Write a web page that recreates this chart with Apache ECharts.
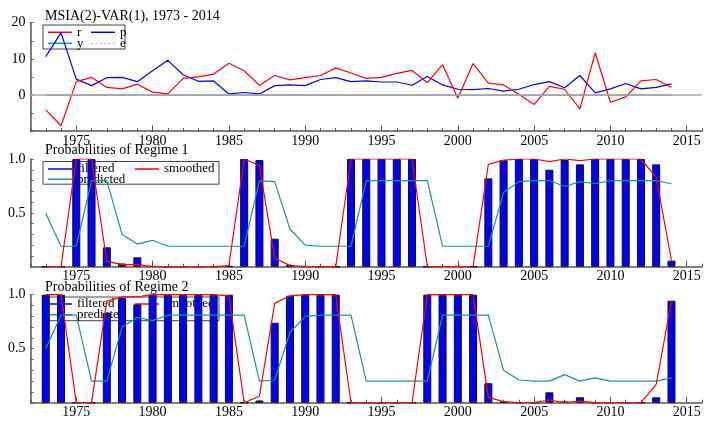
<!DOCTYPE html>
<html>
<head>
<meta charset="utf-8">
<script src="https://cdn.jsdelivr.net/npm/echarts@6/dist/echarts.min.js"></script>
<style>
html,body{margin:0;padding:0;background:#fff;}
#chart{width:705px;height:421px;}
</style>
</head>
<body>
<div id="chart"></div>
<script>
// ---------- data ----------
const years = [1973,1974,1975,1976,1977,1978,1979,1980,1981,1982,1983,1984,1985,1986,1987,1988,1989,1990,1991,1992,1993,1994,1995,1996,1997,1998,1999,2000,2001,2002,2003,2004,2005,2006,2007,2008,2009,2010,2011,2012,2013,2014];
const xLabelYears = [1975,1980,1985,1990,1995,2000,2005,2010,2015];
const yLabelsTop = [0,10,20];
const yLabelsProb = [0.5,1.0];

const seriesR = [-4.1,-8.5,3.7,4.9,2.1,1.7,3.0,0.8,0.3,4.6,5.0,5.8,8.8,6.7,2.7,5.4,4.2,4.8,5.4,7.5,6.1,4.6,4.9,6.0,6.8,3.4,8.4,-0.9,8.7,3.3,2.8,0.2,-2.6,2.4,1.6,-3.8,11.7,-2.0,-0.5,3.9,4.3,2.1];
const seriesP = [10.6,17.2,4.4,2.6,4.8,4.9,3.7,6.7,9.6,5.6,3.8,3.9,0.3,0.7,0.3,2.6,2.8,2.6,4.3,4.8,3.7,3.9,3.6,3.6,2.7,5.1,2.8,1.6,1.5,1.8,1.1,1.6,2.9,3.7,2.0,5.4,0.6,1.7,3.2,1.7,2.1,3.1];
const seriesY = [0,0,0,0,0,0,0,0,0,0,0,0,0,0,0,0,0,0,0,0,0,0,0,0,0,0,0,0,0,0,0,0,0,0,0,0,0,0,0,0,0,0];
const seriesE = [0,0,0,0,0,0,0,0,0,0,0,0,0,0,0,0,0,0,0,0,0,0,0,0,0,0,0,0,0,0,0,0,0,0,0,0,0,0,0,0,0,0];

const reg1Filtered = [0,0,1.0,1.0,0.18,0.03,0.087,0.005,0,0,0,0,0.005,1.0,0.99,0.26,0.015,0.005,0,0,1.0,1.0,1.0,1.0,1.0,0,0.005,0.005,0,0.82,0.99,1.0,1.0,0.90,0.99,0.95,1.0,1.0,1.0,1.0,0.95,0.056];
const reg1Smoothed = [0,0,1.0,1.0,0.05,0.02,0.02,0,0,0,0,0,0.01,1.0,0.94,0.08,0.01,0,0,0,1.0,1.0,1.0,1.0,1.0,0,0,0,0,0.95,0.99,1.0,1.0,0.975,1.0,0.985,1.0,1.0,1.0,1.0,0.83,0.056];
const reg1Predicted = [0.495,0.19,0.19,0.80,0.80,0.30,0.21,0.245,0.19,0.19,0.19,0.19,0.19,0.19,0.80,0.79,0.35,0.20,0.19,0.19,0.19,0.80,0.80,0.80,0.80,0.80,0.19,0.19,0.19,0.19,0.69,0.79,0.80,0.80,0.745,0.79,0.77,0.80,0.80,0.80,0.80,0.77];

const reg2Filtered = [1.0,1.0,0,0,0.83,0.97,0.91,1.0,1.0,1.0,1.0,1.0,1.0,0,0.02,0.74,0.99,1.0,1.0,1.0,0,0,0,0,0,1.0,1.0,1.0,1.0,0.18,0.01,0,0,0.096,0.01,0.05,0,0,0,0,0.05,0.944];
const reg2Smoothed = [1.0,1.0,0,0,0.94,0.98,0.98,1.0,1.0,1.0,1.0,1.0,0.99,0,0.06,0.92,0.99,1.0,1.0,1.0,0,0,0,0,0,1.0,1.0,1.0,1.0,0.05,0.01,0,0,0.025,0,0.015,0,0,0,0,0.17,0.944];
const reg2Predicted = [0.5,0.81,0.81,0.2,0.2,0.70,0.79,0.76,0.81,0.81,0.81,0.81,0.81,0.81,0.2,0.21,0.65,0.80,0.81,0.81,0.81,0.2,0.2,0.2,0.2,0.2,0.81,0.81,0.81,0.81,0.30,0.21,0.2,0.2,0.26,0.2,0.23,0.2,0.2,0.2,0.2,0.23];

// ---------- styling ----------
const FONT = 'Liberation Serif';
const AX = '#555';
const RED = '#ff0000', BLUE = '#0000ff', TEAL = '#1a9595', PINK = '#ff77ff';

const pair = arr => years.map((y, i) => [y, arr[i]]);
const near = (v, list) => list.some(t => Math.abs(v - t) < 1e-9);

const grids = [
  {left: 30.5, top: 22.7, width: 676.5, height: 108.5},
  {left: 30.5, top: 159, width: 676.5, height: 107.7},
  {left: 30.5, top: 294.7, width: 676.5, height: 108}
];

function xMain(g) {
  return {
    type: 'value', gridIndex: g, min: 1972, max: 2016, interval: 1,
    axisLine: {show: true, onZero: false, lineStyle: {color: AX, width: 1.5}},
    axisTick: {show: true, inside: true, length: 3, lineStyle: {color: AX, width: 1}},
    axisLabel: {formatter: v => near(v, xLabelYears) ? String(v) : '', fontFamily: FONT, fontSize: 14, color: '#000', margin: 3},
    splitLine: {show: false}
  };
}
function xMajor(g) {
  return {
    type: 'value', gridIndex: g, min: 1972, max: 2016, position: 'bottom',
    axisLine: {show: false, onZero: false},
    axisTick: {show: true, inside: true, length: 6, customValues: xLabelYears, lineStyle: {color: AX, width: 1}},
    axisLabel: {show: false},
    splitLine: {show: false}
  };
}
function yAxis(g, min, max, interval, labels, digits) {
  return {
    type: 'value', gridIndex: g, min: min, max: max, interval: interval,
    axisLine: {show: true, onZero: false, lineStyle: {color: AX, width: 1.5}},
    axisTick: {show: true, inside: true, length: 3, lineStyle: {color: AX, width: 1}},
    axisLabel: {formatter: v => near(v, labels) ? v.toFixed(digits) : '', fontFamily: FONT, fontSize: 14, color: '#000', margin: 5},
    splitLine: {show: false}
  };
}

function legendItem(name, left, cy, color, icon) {
  return {
    data: [{name: name, icon: icon || 'rect', itemStyle: {color: color, borderWidth: 0}}],
    left: left, top: cy - 7, padding: 0, itemWidth: 24, itemHeight: 1.5, itemGap: 0,
    selectedMode: false, z: 1,
    itemStyle: {borderWidth: 0},
    lineStyle: {width: 0},
    textStyle: {fontFamily: FONT, fontSize: 13, color: '#000', lineHeight: 14, padding: [0, 0, 0, 0]}
  };
}
const dotIcon = 'path://M0,0h2v1h-2zM4,0h2v1h-2zM8,0h2v1h-2zM12,0h2v1h-2zM16,0h2v1h-2zM20,0h2v1h-2z';

function lineSeries(name, arr, color, xi, yi, extra) {
  return Object.assign({
    type: 'line', name: name, data: pair(arr), xAxisIndex: xi, yAxisIndex: yi,
    color: color, symbol: 'none', showSymbol: false,
    lineStyle: {color: color, width: 1.2}, z: 3, silent: true
  }, extra || {});
}
function barSeries(name, arr, xi, yi) {
  return {
    type: 'bar', name: name, data: pair(arr), xAxisIndex: xi, yAxisIndex: yi,
    barWidth: 8, color: BLUE, itemStyle: {color: BLUE, borderColor: '#111', borderWidth: 1},
    z: 2, silent: true
  };
}

const titleStyle = {fontFamily: FONT, fontSize: 14, fontWeight: 'normal', color: '#000'};

const option = {
  animation: false,
  backgroundColor: '#fff',
  title: [
    {text: 'MSIA(2)-VAR(1), 1973 - 2014', left: 45, top: 9, padding: 0, textStyle: titleStyle},
    {text: 'Probabilities of Regime 1', left: 45, top: 143.5, padding: 0, textStyle: titleStyle},
    {text: 'Probabilities of Regime 2', left: 45, top: 280.5, padding: 0, textStyle: titleStyle}
  ],
  grid: grids,
  xAxis: [xMain(0), xMajor(0), xMain(1), xMajor(1), xMain(2), xMajor(2)],
  yAxis: [
    yAxis(0, -10, 20, 5, yLabelsTop, 0),
    yAxis(1, 0, 1, 0.1, yLabelsProb, 1),
    yAxis(2, 0, 1, 0.1, yLabelsProb, 1)
  ],
  legend: [
    legendItem('r', 48, 32.3, RED),
    legendItem('p', 91, 32.3, BLUE),
    legendItem('y', 48, 43.3, TEAL),
    legendItem('e', 91, 43.3, PINK, dotIcon),
    legendItem('filtered', 48, 169, BLUE),
    legendItem('smoothed', 135, 169, RED),
    legendItem('predicted', 48, 179.3, TEAL),
    legendItem('filtered ', 48, 304, BLUE),
    legendItem('smoothed ', 135, 304, RED),
    legendItem('predicted ', 48, 314.7, TEAL)
  ],
  graphic: [
    {type: 'rect', z: 1, shape: {x: 43, y: 25, width: 82, height: 24}, style: {fill: 'none', stroke: '#444', lineWidth: 1}},
    {type: 'rect', z: 1, shape: {x: 43, y: 161.5, width: 176, height: 22.7}, style: {fill: 'none', stroke: '#444', lineWidth: 1}},
    {type: 'rect', z: 1, shape: {x: 43, y: 297, width: 176, height: 23.7}, style: {fill: 'none', stroke: '#444', lineWidth: 1}}
  ],
  series: [
    lineSeries('y', seriesY, TEAL, 0, 0, {
      markLine: {silent: true, symbol: 'none', label: {show: false},
        lineStyle: {color: '#aaaaaa', width: 1.5, type: 'solid'}, data: [{yAxis: 0}]}
    }),
    lineSeries('e', seriesE, PINK, 0, 0, {lineStyle: {color: PINK, width: 1.2, type: [2, 2]}}),
    lineSeries('p', seriesP, BLUE, 0, 0),
    lineSeries('r', seriesR, RED, 0, 0),

    barSeries('filtered', reg1Filtered, 2, 1),
    lineSeries('predicted', reg1Predicted, TEAL, 2, 1),
    lineSeries('smoothed', reg1Smoothed, RED, 2, 1),

    barSeries('filtered ', reg2Filtered, 4, 2),
    lineSeries('predicted ', reg2Predicted, TEAL, 4, 2),
    lineSeries('smoothed ', reg2Smoothed, RED, 4, 2)
  ]
};

const chart = echarts.init(document.getElementById('chart'), null, {renderer: 'canvas'});
chart.setOption(option);
</script>
</body>
</html>
